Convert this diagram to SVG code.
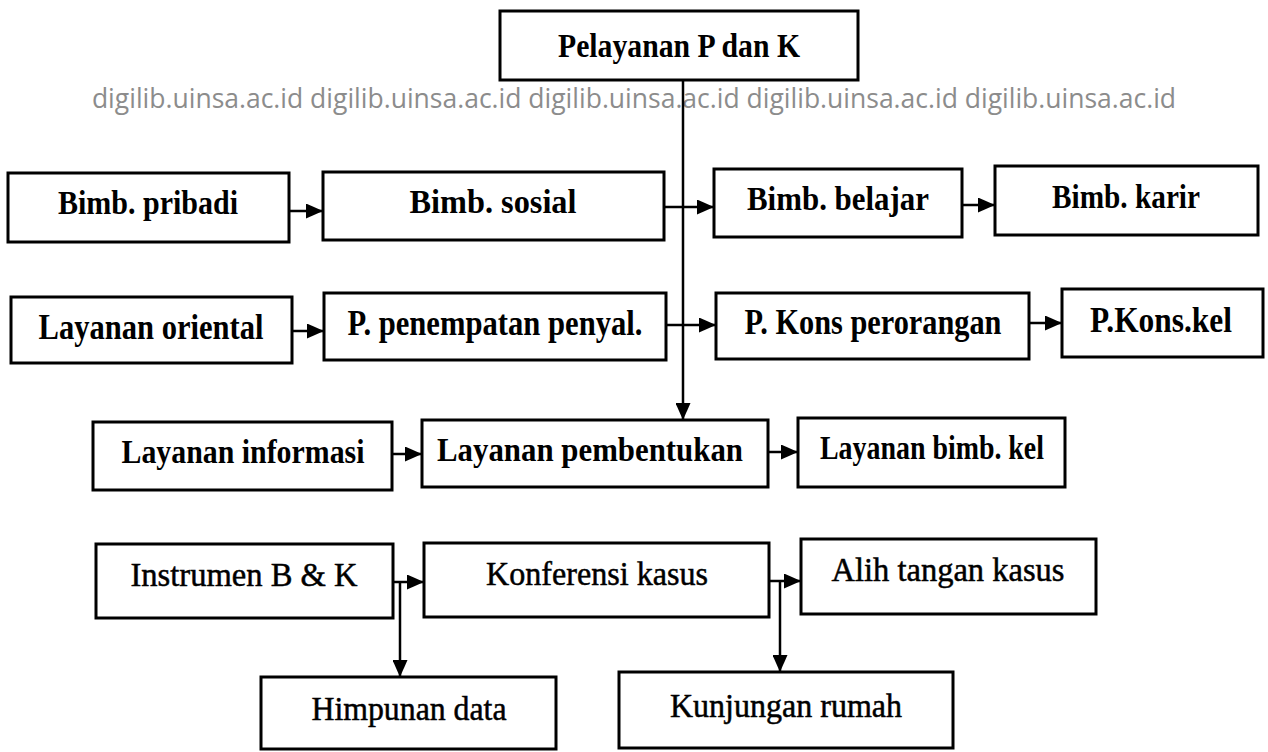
<svg xmlns="http://www.w3.org/2000/svg" width="1268" height="752" viewBox="0 0 1268 752">
<style>
.box{fill:#fff;stroke:#000;stroke-width:3}
.t{font-family:"Liberation Serif","Times New Roman",serif;fill:#000;text-anchor:middle}
.b{font-weight:bold;font-size:33px}
.c{font-weight:bold;font-size:35px}
.r{font-size:34px;stroke:#000;stroke-width:0.5}
.ln{fill:none;stroke:#000;stroke-width:2.5}
.wm{font-family:"Open Sans","Noto Sans",sans-serif;font-size:26.5px;fill:#8c8c8c;text-anchor:middle}
</style>
<defs>
<marker id="ah" markerUnits="userSpaceOnUse" markerWidth="17" markerHeight="15" refX="17" refY="7.5" orient="auto">
<path d="M0,0 L17,7.5 L0,15 z" fill="#000"/>
</marker>
</defs>
<rect width="1268" height="752" fill="#fff"/>
<text class="wm" x="634" y="108">digilib.uinsa.ac.id digilib.uinsa.ac.id digilib.uinsa.ac.id digilib.uinsa.ac.id digilib.uinsa.ac.id</text>
<g id="connectors">
<path class="ln" d="M683,80 V420" marker-end="url(#ah)"/>
<path class="ln" d="M289,211 H323" marker-end="url(#ah)"/>
<path class="ln" d="M664,207 H714" marker-end="url(#ah)"/>
<path class="ln" d="M962,205 H995" marker-end="url(#ah)"/>
<path class="ln" d="M292,331 H324" marker-end="url(#ah)"/>
<path class="ln" d="M666,325 H716" marker-end="url(#ah)"/>
<path class="ln" d="M1029,323 H1062" marker-end="url(#ah)"/>
<path class="ln" d="M392,454 H422" marker-end="url(#ah)"/>
<path class="ln" d="M768,452 H798" marker-end="url(#ah)"/>
<path class="ln" d="M393,582 H424" marker-end="url(#ah)"/>
<path class="ln" d="M400,582 V677" marker-end="url(#ah)"/>
<path class="ln" d="M769,581 H801" marker-end="url(#ah)"/>
<path class="ln" d="M780,581 V672" marker-end="url(#ah)"/>
</g>
<g id="n-pelayanan"><rect class="box" x="500" y="11" width="358" height="69"/><text class="t b" x="679" y="57" textLength="242" lengthAdjust="spacingAndGlyphs">Pelayanan P dan K</text></g>
<g id="n-pribadi"><rect class="box" x="8" y="173" width="281" height="69"/><text class="t b" x="148" y="214" textLength="180" lengthAdjust="spacingAndGlyphs">Bimb. pribadi</text></g>
<g id="n-sosial"><rect class="box" x="323" y="172" width="341" height="68"/><text class="t b" x="493" y="213" textLength="167" lengthAdjust="spacingAndGlyphs">Bimb. sosial</text></g>
<g id="n-belajar"><rect class="box" x="714" y="169" width="248" height="68"/><text class="t b" x="838" y="210" textLength="182" lengthAdjust="spacingAndGlyphs">Bimb. belajar</text></g>
<g id="n-karir"><rect class="box" x="995" y="166" width="263" height="69"/><text class="t b" x="1126" y="208" textLength="148" lengthAdjust="spacingAndGlyphs">Bimb. karir</text></g>
<g id="n-oriental"><rect class="box" x="11" y="297" width="281" height="66"/><text class="t c" x="151" y="339" textLength="225" lengthAdjust="spacingAndGlyphs">Layanan oriental</text></g>
<g id="n-penempatan"><rect class="box" x="324" y="293" width="342" height="67"/><text class="t c" x="495" y="335" textLength="295" lengthAdjust="spacingAndGlyphs">P. penempatan penyal.</text></g>
<g id="n-perorangan"><rect class="box" x="716" y="293" width="313" height="66"/><text class="t c" x="873" y="334" textLength="257" lengthAdjust="spacingAndGlyphs">P. Kons perorangan</text></g>
<g id="n-konskel"><rect class="box" x="1062" y="289" width="201" height="68"/><text class="t c" x="1161" y="332" textLength="142" lengthAdjust="spacingAndGlyphs">P.Kons.kel</text></g>
<g id="n-informasi"><rect class="box" x="93" y="422" width="299" height="68"/><text class="t b" x="243" y="463" textLength="243" lengthAdjust="spacingAndGlyphs">Layanan informasi</text></g>
<g id="n-pembentukan"><rect class="box" x="422" y="420" width="346" height="67"/><text class="t b" x="590" y="461" textLength="306" lengthAdjust="spacingAndGlyphs">Layanan pembentukan</text></g>
<g id="n-bimbkel"><rect class="box" x="798" y="418" width="267" height="69"/><text class="t b" x="932" y="459" textLength="224" lengthAdjust="spacingAndGlyphs">Layanan bimb. kel</text></g>
<g id="n-instrumen"><rect class="box" x="96" y="544" width="297" height="74"/><text class="t r" x="244" y="586" textLength="227" lengthAdjust="spacingAndGlyphs">Instrumen B &amp; K</text></g>
<g id="n-konferensi"><rect class="box" x="424" y="543" width="345" height="74"/><text class="t r" x="597" y="585" textLength="222" lengthAdjust="spacingAndGlyphs">Konferensi kasus</text></g>
<g id="n-alih"><rect class="box" x="801" y="539" width="295" height="75"/><text class="t r" x="948" y="581" textLength="233" lengthAdjust="spacingAndGlyphs">Alih tangan kasus</text></g>
<g id="n-himpunan"><rect class="box" x="261" y="677" width="295" height="72"/><text class="t r" x="409" y="720" textLength="195" lengthAdjust="spacingAndGlyphs">Himpunan data</text></g>
<g id="n-kunjungan"><rect class="box" x="619" y="672" width="334" height="76"/><text class="t r" x="786" y="717" textLength="232" lengthAdjust="spacingAndGlyphs">Kunjungan rumah</text></g>
</svg>
